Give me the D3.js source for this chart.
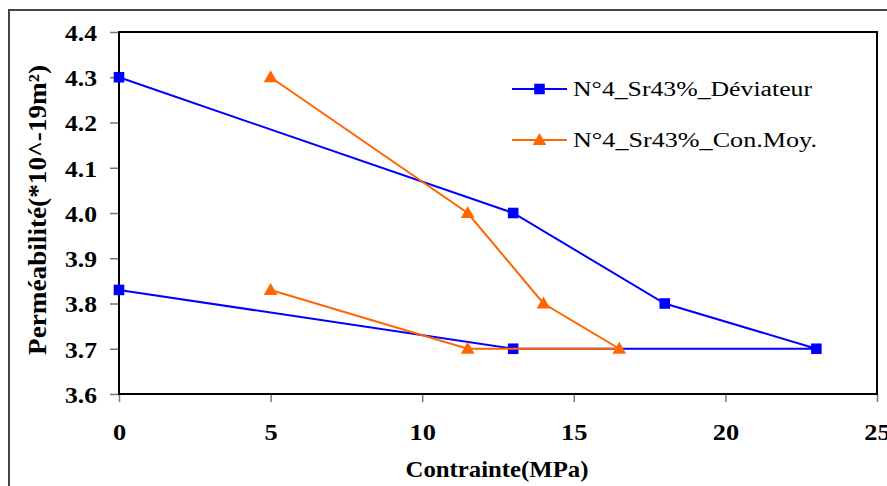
<!DOCTYPE html>
<html><head><meta charset="utf-8">
<script src="https://cdn.jsdelivr.net/npm/d3@7"></script>
</head><body style="margin:0"><svg id="c" width="887" height="486" style="display:block"></svg>
<script>
const xTicks = [0, 5, 10, 15, 20, 25];
const yTicks = [3.6, 3.7, 3.8, 3.9, 4.0, 4.1, 4.2, 4.3, 4.4];
const seriesNames = ["N°4_Sr43%_Déviateur", "N°4_Sr43%_Con.Moy."];
const deviateurX = [0, 13, 18, 23, 13, 0];
const deviateurY = [4.3, 4.0, 3.8, 3.7, 3.7, 3.83];
const conMoyX = [5, 11.5, 14, 16.5, 11.5, 5];
const conMoyY = [4.3, 4.0, 3.8, 3.7, 3.7, 3.83];
const colors = ["#0000FF", "#FF6600"];

const FONT = "Times New Roman, Times, Liberation Serif, Tinos, serif";
const svg = d3.select("#c");
const L = 119, R = 877, T = 32, B = 394;
const x = d3.scaleLinear().domain([0, 25]).range([L, R]);
const y = d3.scaleLinear().domain([3.6, 4.4]).range([B, T]);

// outer frame
svg.append("rect").attr("x", 9).attr("y", 10).attr("width", 900).attr("height", 500)
  .attr("fill", "none").attr("stroke", "#444").attr("stroke-width", 2);

// axes
const xa = svg.append("g").attr("transform", `translate(0,${B})`)
  .call(d3.axisBottom(x).tickValues(xTicks).tickFormat(d3.format("d")).tickSize(8).tickSizeOuter(0));
const ya = svg.append("g").attr("transform", `translate(${L},0)`)
  .call(d3.axisLeft(y).tickValues(yTicks).tickFormat(d3.format(".1f")).tickSize(9).tickSizeOuter(0));
[xa, ya].forEach(g => {
  g.attr("font-family", FONT).attr("font-size", 23).attr("font-weight", "bold");
  g.select(".domain").remove();
  g.selectAll(".tick line").attr("stroke", "#777").attr("stroke-width", 1.5);
  g.selectAll(".tick text").attr("fill", "#000").attr("font-family", FONT).attr("font-weight", "bold").attr("font-size", 23);
});
xa.selectAll(".tick text").attr("dy", null).attr("y", 46).attr("textLength", d => String(d).length * 13.2).attr("lengthAdjust", "spacingAndGlyphs");
ya.selectAll(".tick text").attr("x", -22).attr("dy", "0.36em").attr("textLength", 32).attr("lengthAdjust", "spacingAndGlyphs");

// plot frame
svg.append("rect").attr("x", L).attr("y", T).attr("width", R - L).attr("height", B - T)
  .attr("fill", "none").attr("stroke", "#000").attr("stroke-width", 2);

// axis titles
svg.append("text").attr("x", 497).attr("y", 477).attr("text-anchor", "middle")
  .attr("font-family", FONT).attr("font-weight", "bold").attr("font-size", 24)
  .attr("textLength", 183).attr("lengthAdjust", "spacingAndGlyphs")
  .text("Contrainte(MPa)");
svg.append("text").attr("transform", "translate(46,210) rotate(-90)").attr("text-anchor", "middle")
  .attr("font-family", FONT).attr("font-weight", "bold").attr("font-size", 25)
  .attr("textLength", 290).attr("lengthAdjust", "spacingAndGlyphs")
  .text("Perméabilité(*10^-19m²)");

const series = [
  {name: seriesNames[0], xs: deviateurX, ys: deviateurY, color: colors[0], shape: d3.symbolSquare, size: 112, dy: 0},
  {name: seriesNames[1], xs: conMoyX, ys: conMoyY, color: colors[1], shape: d3.symbolTriangle, size: 82, dy: 1}
];
const line = d3.line().x(d => x(d[0])).y(d => y(d[1]));
series.forEach(s => {
  const pts = s.xs.map((v, i) => [v, s.ys[i]]);
  svg.append("path").datum(pts).attr("d", line).attr("fill", "none").attr("stroke", s.color).attr("stroke-width", 2);
  svg.selectAll(null).data(pts).enter().append("path")
    .attr("d", d3.symbol().type(s.shape).size(s.size))
    .attr("transform", d => `translate(${x(d[0])},${y(d[1]) + s.dy})`)
    .attr("fill", s.color);
});

// legend
const legendLen = [239, 244];
series.forEach((s, i) => {
  const ly = 89 + i * 51;
  svg.append("line").attr("x1", 512).attr("x2", 567).attr("y1", ly).attr("y2", ly).attr("stroke", s.color).attr("stroke-width", 2);
  svg.append("path").attr("d", d3.symbol().type(s.shape).size(s.size))
    .attr("transform", `translate(539.5,${ly + s.dy})`).attr("fill", s.color);
  svg.append("text").attr("x", 573).attr("y", ly + 6.5).attr("font-family", FONT).attr("font-size", 20)
    .attr("textLength", legendLen[i]).attr("lengthAdjust", "spacingAndGlyphs").text(s.name);
});
</script></body></html>
